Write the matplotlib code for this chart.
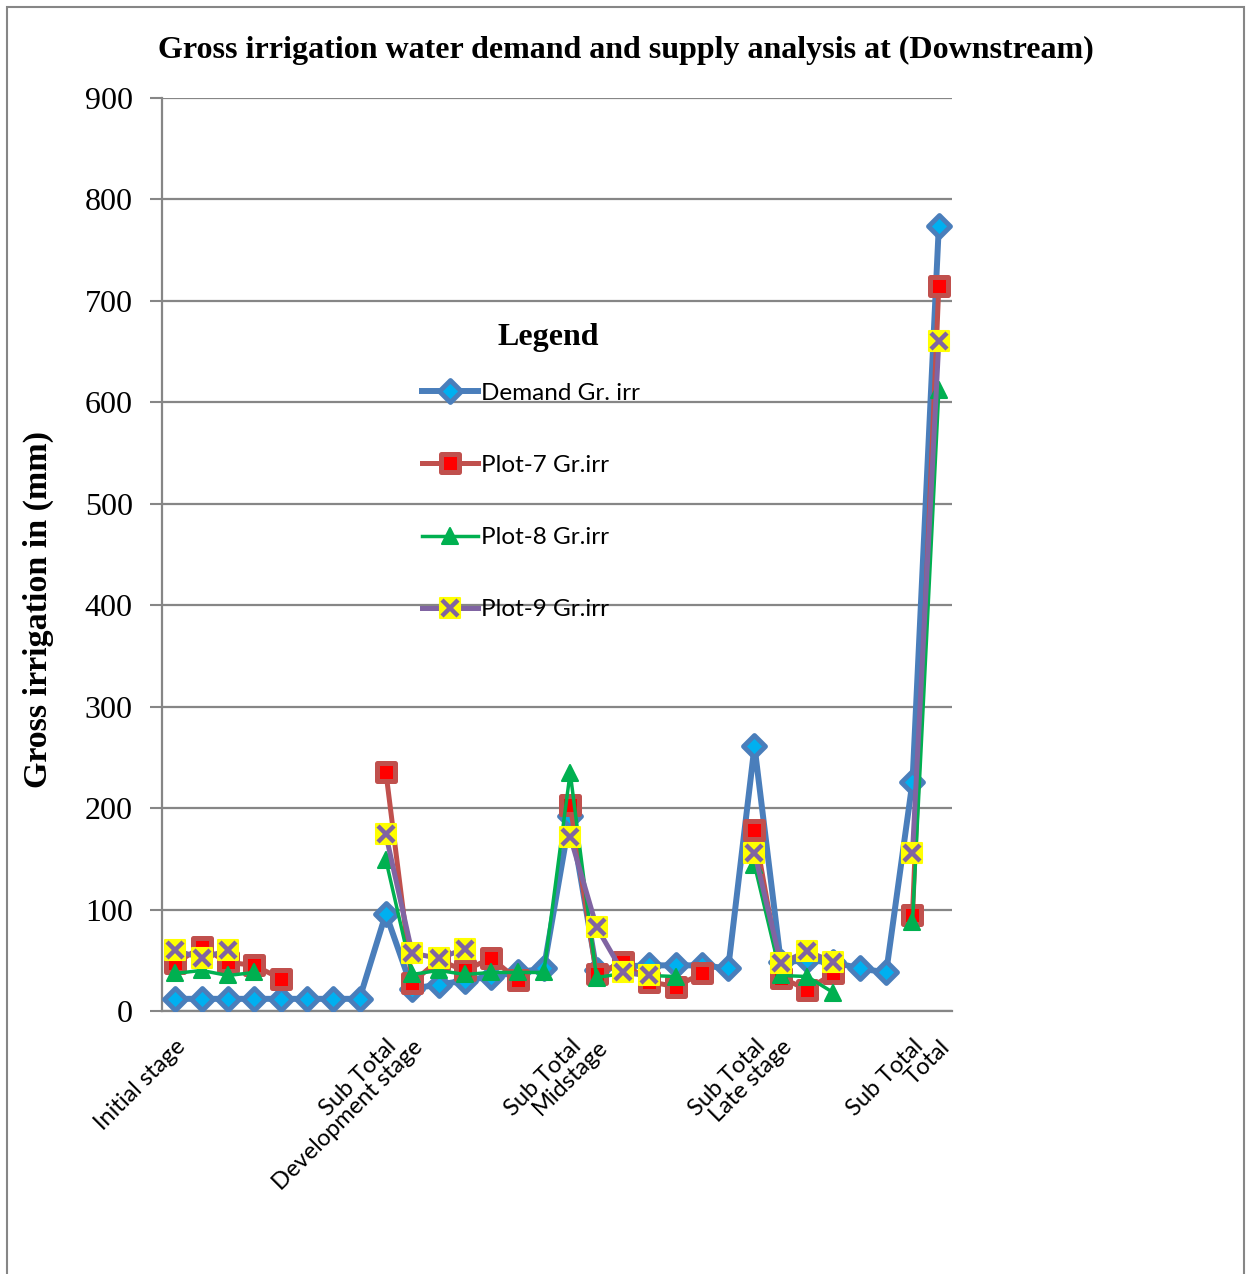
import numpy as np
import matplotlib
matplotlib.use("Agg")
import matplotlib.pyplot as plt
from matplotlib.markers import MarkerStyle
from matplotlib.patches import Rectangle

nan = np.nan

# category labels (Excel shows only some of them)
categories = ["Initial stage", "", "", "", "", "", "", "", "Sub Total",
              "Development stage", "", "", "", "", "", "Sub Total",
              "Midstage", "", "", "", "", "", "Sub Total",
              "Late stage", "", "", "", "", "Sub Total", "Total"]

demand = [12, 12, 12, 12, 12, 12, 12, 12, 96,
          22, 26, 30, 34, 38, 42, 192,
          40, 44, 45, 45, 45, 42, 261,
          48, 50, 48, 42, 38, 226, 774]
plot7 = [47, 63, 48, 45, 32, nan, nan, nan, 236,
         28, 50, 40, 52, 31, nan, 203,
         36, 48, 29, 24, 37, nan, 178,
         33, 21, 37, nan, nan, 95, 715]
plot8 = [37, 40, 35, 38, nan, nan, nan, nan, 149,
         36, 40, 36, 38, 38, 38, 235,
         33, 37, 35, 34, nan, nan, 144,
         35, 34, 18, nan, nan, 88, 612]
plot9 = [60, 52, 60, nan, nan, nan, nan, nan, 174,
         57, 52, 61, nan, nan, nan, 172,
         83, 38, 35, nan, nan, nan, 156,
         47, 59, 48, nan, nan, 156, 660]

yticks = list(range(0, 1000, 100))

W, H = 1247, 1274
fig = plt.figure(figsize=(W / 100, H / 100), dpi=100)
ax = fig.add_axes([162 / W, 1 - 1011 / H, (952 - 162) / W, (1011 - 98) / H])

x = np.arange(len(categories))
grid_c = "#868686"

def mk(m):
    return MarkerStyle(m, joinstyle="round")

h_dem, = ax.plot(x, demand, color="#4A7EBB", lw=4.3, marker=mk("D"), ms=11,
                 mfc="#00B0F0", mec="#4A7EBB", mew=3.5, zorder=3)
h7, = ax.plot(x, plot7, color="#C0504D", lw=3.6, marker=mk("s"), ms=13.5,
              mfc="#FF0000", mec="#C0504D", mew=3.6, zorder=4)
h8, = ax.plot(x, plot8, color="#00B050", lw=2.5, marker=mk("^"), ms=11,
              mfc="#00B050", mec="#00B050", mew=1.5, zorder=5)
h9l, = ax.plot(x, plot9, color="#8064A2", lw=3.6, zorder=6)
h9s, = ax.plot(x, plot9, ls="none", marker=mk("s"), ms=15, mfc="#FFFF00",
               mec="#FFFF00", mew=1.5, zorder=7)
h9x, = ax.plot(x, plot9, ls="none", marker="x", ms=11, mec="#8064A2",
               mew=3.2, zorder=8)

ax.set_xlim(-0.5, len(categories) - 0.5)
ax.set_ylim(0, 900)
ax.set_yticks(yticks)
ax.set_yticklabels([str(v) for v in yticks], family="Liberation Serif", fontsize=23)
ax.set_xticks(x)
ax.set_xticklabels(categories, rotation=45, ha="right", va="top",
                   rotation_mode="anchor", family="Lato", fontsize=17)
ax.tick_params(axis="x", length=0, pad=18)
ax.tick_params(axis="y", length=9, width=1.5, color=grid_c, pad=12)
ax.grid(axis="y", color=grid_c, lw=1.6)
ax.set_axisbelow(True)
for s in ["top", "right"]:
    ax.spines[s].set_visible(False)
for s in ["left", "bottom"]:
    ax.spines[s].set_color(grid_c)
    ax.spines[s].set_linewidth(1.6)

leg = ax.legend([h_dem, h7, h8, (h9l, h9s, h9x)],
                ["Demand Gr. irr", "Plot-7 Gr.irr", "Plot-8 Gr.irr", "Plot-9 Gr.irr"],
                loc="center left", bbox_to_anchor=(422 / W, 1 - 501.5 / H),
                bbox_transform=fig.transFigure, frameon=False,
                borderaxespad=0, borderpad=0,
                prop={"family": "Lato", "size": 17.5}, labelspacing=2.1,
                handlelength=2.3, handletextpad=0.12, numpoints=1)

fig.text(548 / W, 1 - 337 / H, "Legend", ha="center", va="center",
         family="Liberation Serif", weight="bold", fontsize=23)

fig.text(626 / W, 1 - 50 / H,
         "Gross irrigation water demand and supply analysis at (Downstream)",
         ha="center", va="center", family="Liberation Serif", weight="bold", fontsize=23)
fig.text(38 / W, 1 - 610 / H, "Gross irrigation in (mm)", rotation=90,
         ha="center", va="center", family="Liberation Serif", weight="bold", fontsize=24.5)

fig.add_artist(Rectangle((7 / W, -0.01), (1244 - 7) / W, 1.01 - 7 / H,
                         transform=fig.transFigure, fill=False, ec="#868686", lw=1.5))

fig.savefig("out.png", dpi=100)
